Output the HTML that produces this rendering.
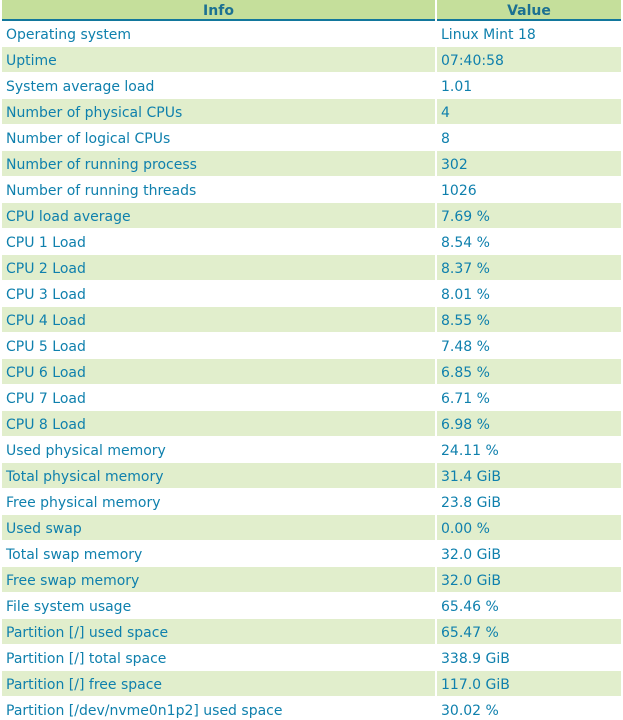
<!DOCTYPE html>
<html><head><meta charset="utf-8"><style>
html,body{margin:0;padding:0;background:#fff;width:623px;height:720px;overflow:hidden;}
body{font-family:"DejaVu Sans","Liberation Sans",sans-serif;font-size:14px;color:#0f80ad;position:relative;}
.h{position:absolute;top:0;height:19px;background:#c5df9b;border-bottom:2px solid #12779c;font-weight:bold;color:#1c7192;text-align:center;line-height:19px;padding-top:2px;box-sizing:border-box;height:21px;}
.c{position:absolute;height:25px;line-height:25px;padding-left:4px;padding-top:2px;box-sizing:border-box;white-space:nowrap;overflow:hidden;}
.l{left:2px;width:433px;}
.r{left:437px;width:184px;}
.g{background:#e1eecc;}
</style></head><body>
<div class="h" style="left:2px;width:433px;">Info</div>
<div class="h" style="left:437px;width:184px;">Value</div>
<div class="c l" style="top:21px">Operating system</div><div class="c r" style="top:21px">Linux Mint 18</div>
<div class="c l g" style="top:47px">Uptime</div><div class="c r g" style="top:47px">07:40:58</div>
<div class="c l" style="top:73px">System average load</div><div class="c r" style="top:73px">1.01</div>
<div class="c l g" style="top:99px">Number of physical CPUs</div><div class="c r g" style="top:99px">4</div>
<div class="c l" style="top:125px">Number of logical CPUs</div><div class="c r" style="top:125px">8</div>
<div class="c l g" style="top:151px">Number of running process</div><div class="c r g" style="top:151px">302</div>
<div class="c l" style="top:177px">Number of running threads</div><div class="c r" style="top:177px">1026</div>
<div class="c l g" style="top:203px">CPU load average</div><div class="c r g" style="top:203px">7.69 %</div>
<div class="c l" style="top:229px">CPU 1 Load</div><div class="c r" style="top:229px">8.54 %</div>
<div class="c l g" style="top:255px">CPU 2 Load</div><div class="c r g" style="top:255px">8.37 %</div>
<div class="c l" style="top:281px">CPU 3 Load</div><div class="c r" style="top:281px">8.01 %</div>
<div class="c l g" style="top:307px">CPU 4 Load</div><div class="c r g" style="top:307px">8.55 %</div>
<div class="c l" style="top:333px">CPU 5 Load</div><div class="c r" style="top:333px">7.48 %</div>
<div class="c l g" style="top:359px">CPU 6 Load</div><div class="c r g" style="top:359px">6.85 %</div>
<div class="c l" style="top:385px">CPU 7 Load</div><div class="c r" style="top:385px">6.71 %</div>
<div class="c l g" style="top:411px">CPU 8 Load</div><div class="c r g" style="top:411px">6.98 %</div>
<div class="c l" style="top:437px">Used physical memory</div><div class="c r" style="top:437px">24.11 %</div>
<div class="c l g" style="top:463px">Total physical memory</div><div class="c r g" style="top:463px">31.4 GiB</div>
<div class="c l" style="top:489px">Free physical memory</div><div class="c r" style="top:489px">23.8 GiB</div>
<div class="c l g" style="top:515px">Used swap</div><div class="c r g" style="top:515px">0.00 %</div>
<div class="c l" style="top:541px">Total swap memory</div><div class="c r" style="top:541px">32.0 GiB</div>
<div class="c l g" style="top:567px">Free swap memory</div><div class="c r g" style="top:567px">32.0 GiB</div>
<div class="c l" style="top:593px">File system usage</div><div class="c r" style="top:593px">65.46 %</div>
<div class="c l g" style="top:619px">Partition [/] used space</div><div class="c r g" style="top:619px">65.47 %</div>
<div class="c l" style="top:645px">Partition [/] total space</div><div class="c r" style="top:645px">338.9 GiB</div>
<div class="c l g" style="top:671px">Partition [/] free space</div><div class="c r g" style="top:671px">117.0 GiB</div>
<div class="c l" style="top:697px">Partition [/dev/nvme0n1p2] used space</div><div class="c r" style="top:697px">30.02 %</div>
</body></html>
